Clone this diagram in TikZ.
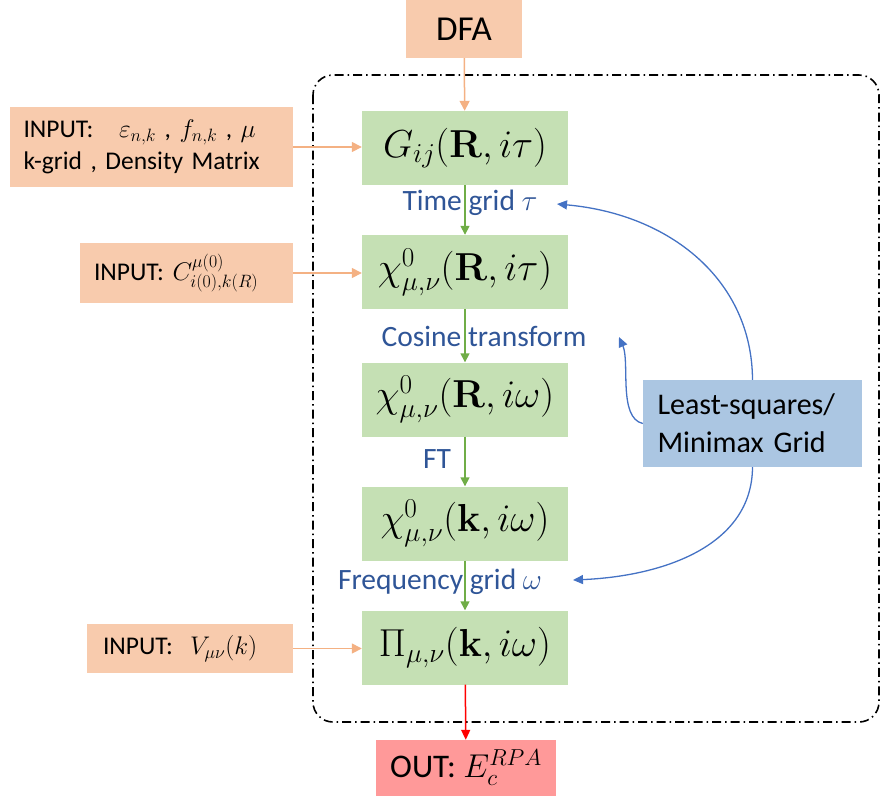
\RequirePackage{fix-cm}
\documentclass[tikz,border=0pt]{standalone}
\usepackage[no-math]{fontspec}
\setmainfont{Carlito}
\usetikzlibrary{arrows.meta}
\definecolor{grn}{HTML}{C5E0B4}
\definecolor{peach}{HTML}{F8CBAD}
\definecolor{lsblue}{HTML}{ABC6E2}
\definecolor{outred}{HTML}{FF9999}
\definecolor{arrgrn}{HTML}{70AD47}
\definecolor{arrorg}{HTML}{F4B183}
\definecolor{crvblue}{HTML}{4472C4}
\definecolor{lblblue}{HTML}{2F5597}
\begin{document}
\begin{tikzpicture}[x=1pt,y=-1pt,
  greenbox/.style={fill=grn, minimum width=206pt, minimum height=74pt, inner sep=0pt, font=\fontsize{39}{44}\selectfont},
  inbox/.style={fill=peach, inner sep=0pt, font=\fontsize{25.5}{32}\selectfont},
  lbl/.style={text=lblblue, inner sep=0pt, font=\fontsize{29.5}{34}\selectfont},
  garrow/.style={draw=arrgrn, line width=1.5pt, -{Triangle[length=9pt,width=9pt]}},
  oarrow/.style={draw=arrorg, line width=1.5pt, -{Triangle[length=10pt,width=10pt]}},
  barrow/.style={draw=crvblue, line width=1.3pt, -{Triangle[length=10pt,width=9pt]}},
  rarrow/.style={draw=red, line width=1.5pt, -{Triangle[length=10pt,width=9pt]}}
]
\useasboundingbox (0,0) rectangle (882,796);
% loop frame
\draw[line width=1.6pt, dash pattern=on 9pt off 4pt on 1.5pt off 4pt, rounded corners=20pt] (313,75) rectangle (879,722);
% main boxes
\node[greenbox] (G) at (465,148) {$G_{ij}(\mathbf{R},i\tau)$};
\node[greenbox] (C1) at (465,272) {$\chi^0_{\mu,\nu}(\mathbf{R},i\tau)$};
\node[greenbox] (C2) at (465,399.5) {$\chi^0_{\mu,\nu}(\mathbf{R},i\omega)$};
\node[greenbox] (C3) at (465,523.5) {$\chi^0_{\mu,\nu}(\mathbf{k},i\omega)$};
\node[greenbox] (P) at (465,647.5) {$\Pi_{\mu,\nu}(\mathbf{k},i\omega)$};
% top / bottom
\node[fill=peach, minimum width=116pt, minimum height=58pt, inner sep=0pt, font=\fontsize{35}{40}\selectfont] (DFA) at (464,29) {DFA};
\node[fill=outred, minimum width=180pt, minimum height=56pt, inner sep=0pt, font=\fontsize{33}{38}\selectfont] (OUT) at (466,768) {OUT: $E_c^{RPA}$};
% inputs
\node[inbox, minimum width=283pt, minimum height=80pt, text width=256pt, align=left] (in1) at (151.5,147)
  {INPUT:\quad $\varepsilon_{n,k}$ , $f_{n,k}$ , $\mu$\\k-grid , Density Matrix};
\node[inbox, minimum width=213pt, minimum height=60pt, text width=185pt, align=left] (in2) at (186.5,273)
  {INPUT: $C^{\mu(0)}_{i(0),k(R)}$};
\node[inbox, minimum width=206pt, minimum height=49pt, text width=174pt, align=left] (in3) at (190,648.5)
  {INPUT:\ \ $V_{\mu\nu}(k)$};
% least squares
\node[fill=lsblue, minimum width=219pt, minimum height=87pt, text width=190pt, inner sep=0pt, align=left, font=\fontsize{30}{38}\selectfont] (LS) at (752.5,423.5)
  {\mbox{Least-squares/}\\\mbox{Minimax Grid}};
% labels
\node[lbl] (tg) at (470,203) {Time grid $\tau$};
\node[lbl] (ct) at (484,336) {Cosine transform};
\node[lbl] (ft) at (437,459) {FT};
\node[lbl] (fg) at (440,582) {Frequency grid $\omega$};
% arrows
\draw[oarrow] (DFA) -- (G);
\draw[garrow] (G) -- (C1);
\draw[garrow] (C1) -- (C2);
\draw[garrow] (C2) -- (C3);
\draw[garrow] (C3) -- (P);
\draw[rarrow] (P) -- (OUT);
\draw[oarrow] (in1.east) -- (in1.east -| G.west);
\draw[oarrow] (in2.east) -- (in2.east -| C1.west);
\draw[oarrow] (in3.east) -- (in3.east -| P.west);
% blue curves
\coordinate (tgend) at (557,204);
\coordinate (ctend) at (619,337);
\coordinate (fgend) at (573,580);
\draw[barrow] (LS.north) .. controls (752,280) and (670,214) .. (tgend);
\draw[barrow] (LS.west) .. controls (618,418) and (630,362) .. (ctend);
\draw[barrow] (LS.south) .. controls (752,545) and (665,576) .. (fgend);
\end{tikzpicture}
\end{document}
